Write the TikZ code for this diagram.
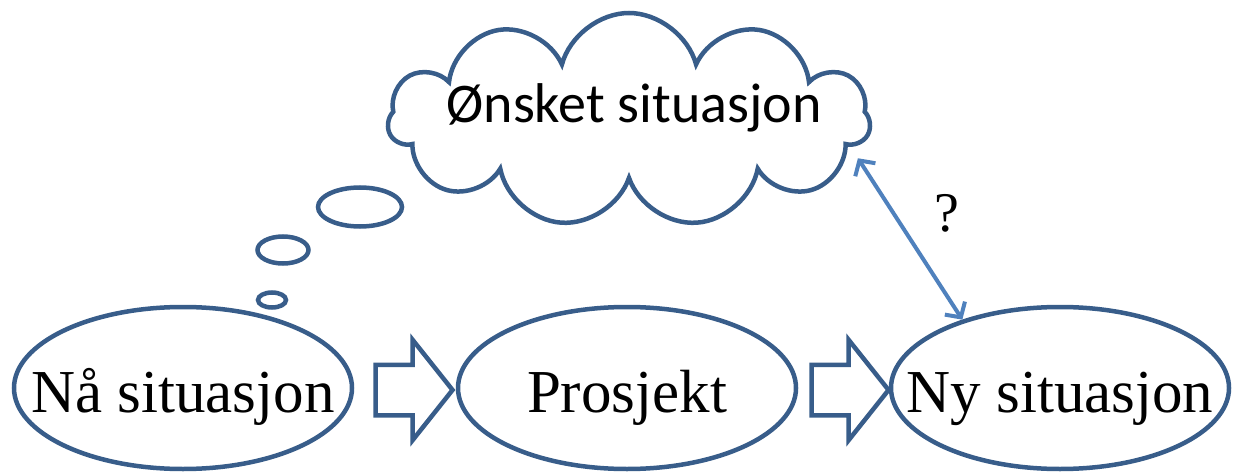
\documentclass[tikz,border=0pt]{standalone}
\usepackage{fontspec}
\setmainfont{Liberation Serif}
\newfontfamily\calibri{Carlito}
\usetikzlibrary{arrows.meta, shapes.geometric, shapes.symbols, shapes.arrows}
\definecolor{outline}{RGB}{56,93,138}
\definecolor{linkblue}{RGB}{79,129,189}

\begin{document}
\begin{tikzpicture}[x=1pt, y=-1pt,
  situation/.style={ellipse, draw=outline, line width=4.5pt, minimum width=338pt, minimum height=162pt, inner sep=0pt},
  caption/.style={anchor=base, inner sep=0pt, font=\fontsize{61}{72}\selectfont},
  bubble/.style={ellipse, draw=outline, line width=4.5pt, inner sep=0pt},
  blockarrow/.style={single arrow, draw=outline, line width=4.5pt, inner xsep=0pt, inner ysep=23pt, minimum height=77pt,
    minimum width=96pt, single arrow head extend=25pt, single arrow tip angle=103}]
  \useasboundingbox (0,0) rectangle (1239,473);
  \node[situation] (now) at (183,388) {};
  \node[situation] (project) at (627,388) {};
  \node[situation] (new) at (1060,388) {};
  \node[caption] (nowtext) at ([yshift=-24pt]now.center) {Nå situasjon};
  \node[caption] (projecttext) at ([yshift=-24pt]project.center) {Prosjekt};
  \node[caption] (newtext) at ([yshift=-24pt]new.center) {Ny situasjon};
  \node[blockarrow] (step1) at (404,390) {};
  \node[blockarrow] (step2) at (840,390) {};
  % the wish
  \node[cloud, cloud puffs=11, draw=outline, line width=4.5pt, minimum width=482pt, minimum height=214pt] (wish) at (629,120) {};
  \node[font=\calibri\fontsize{56}{66}\selectfont, anchor=base, inner sep=0pt] (wishtext) at (634,123) {Ønsket situasjon};
  \node[bubble, minimum width=84pt, minimum height=39pt] (big) at (360,207) {};
  \node[bubble, minimum width=51pt, minimum height=27pt] (mid) at (283,250) {};
  \node[bubble, minimum width=28pt, minimum height=15pt] (small) at (272,300) {};
  \draw[linkblue, line width=4pt, {Straight Barb[length=11pt,width=24pt]}-{Straight Barb[length=11pt,width=24pt]}]
    ([xshift=12pt]wish.-10) -- (new.145);
  \node[font=\fontsize{56}{64}\selectfont] (gap) at (947,213) {?};
\end{tikzpicture}
\end{document}
